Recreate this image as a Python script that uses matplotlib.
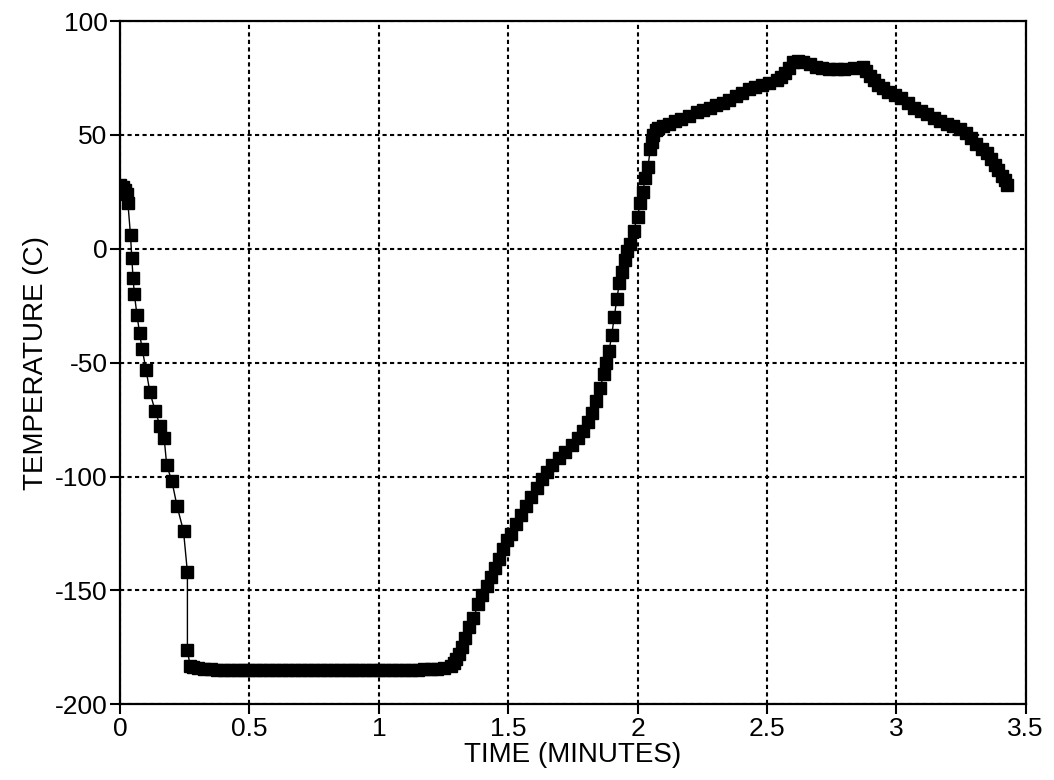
import matplotlib.pyplot as plt
import numpy as np

plt.rcParams['font.family'] = ['Liberation Sans', 'DejaVu Sans']
plt.rcParams['axes.unicode_minus'] = False

# readings (time in minutes, temperature in C)
time_min = [0.00, 0.01, 0.02, 0.025, 0.03, 0.04, 0.045, 0.05, 0.055, 0.065,
            0.075, 0.085, 0.10, 0.115, 0.135, 0.155, 0.17, 0.18, 0.20, 0.22,
            0.245, 0.26, 0.26, 0.27,
            0.28, 0.30, 0.325, 0.35, 0.375, 0.40, 0.425, 0.45, 0.475, 0.50,
            0.525, 0.55, 0.575, 0.60, 0.625, 0.65, 0.675, 0.70, 0.725, 0.75,
            0.775, 0.80, 0.825, 0.85, 0.875, 0.90, 0.925, 0.95, 0.975, 1.00,
            1.025, 1.05, 1.075, 1.10, 1.125, 1.15, 1.175, 1.20, 1.225, 1.25,
            1.28,
            1.29, 1.30, 1.31, 1.32, 1.335, 1.35, 1.365, 1.385, 1.40, 1.42,
            1.435, 1.45, 1.465, 1.48, 1.495, 1.51, 1.53, 1.55, 1.57, 1.59,
            1.61, 1.63, 1.65, 1.67, 1.695, 1.72, 1.745, 1.77, 1.79, 1.81,
            1.825, 1.84, 1.855, 1.87, 1.88, 1.89, 1.90, 1.91, 1.92, 1.93,
            1.94, 1.95, 1.96, 1.97, 1.985, 2.00, 2.01, 2.02, 2.03, 2.04,
            2.05, 2.055, 2.06,
            2.07, 2.08, 2.10, 2.12, 2.145, 2.17, 2.20, 2.23, 2.255, 2.28,
            2.305, 2.33, 2.355, 2.38, 2.405, 2.43, 2.455, 2.48, 2.51, 2.54,
            2.555, 2.57, 2.585, 2.60, 2.62, 2.64, 2.665, 2.69, 2.715, 2.74,
            2.77, 2.80, 2.835, 2.87, 2.885, 2.90, 2.915, 2.93, 2.95, 2.97,
            2.995, 3.02, 3.045, 3.07, 3.095, 3.12, 3.145, 3.17, 3.195, 3.22,
            3.245, 3.27, 3.29, 3.31, 3.33, 3.35, 3.365, 3.38, 3.395, 3.41,
            3.42, 3.43]
temp_c = [28, 27, 26, 24, 20, 6, -4, -13, -20, -29,
          -37, -44, -53, -63, -71, -78, -83, -95, -102, -113,
          -124, -142, -176, -183,
          -183.5, -184, -184.5, -184.5, -185, -185, -185, -185, -185, -185,
          -185, -185, -185, -185, -185, -185, -185, -185, -185, -185,
          -185, -185, -185, -185, -185, -185, -185, -185, -185, -185,
          -185, -185, -185, -185, -185, -185, -184.5, -184.5, -184.5, -184,
          -183,
          -182, -180, -178, -175, -171, -166, -162, -156, -152, -148,
          -144, -140, -136, -132, -128, -125, -121, -117, -113, -109,
          -105, -101, -98, -95, -92, -89, -86, -83, -80, -76,
          -72, -67, -61, -55, -50, -45, -38, -30, -22, -15,
          -10, -5, -1, 2, 8, 14, 20, 25, 31, 36,
          44, 47, 50,
          52, 53, 54, 55, 56, 57, 58.5, 60, 61, 62,
          63, 64, 65.5, 67, 68.5, 70, 71, 72, 73, 74,
          75.5, 77, 79.5, 82, 82.5, 82, 81, 80, 79.5, 79,
          79, 79, 79.5, 80, 78, 76, 74, 72, 70.5, 69,
          67.5, 66, 64, 62, 60.5, 59, 57.5, 56, 55, 54,
          52.5, 51, 48.5, 46, 44, 42, 39.5, 37, 34.5, 32,
          30, 28]

x_ticks = [0, 0.5, 1, 1.5, 2, 2.5, 3, 3.5]
x_labels = ['0', '0.5', '1', '1.5', '2', '2.5', '3', '3.5']
y_ticks = [-200, -150, -100, -50, 0, 50, 100]

fig = plt.figure(figsize=(10.54, 7.8), dpi=100)
ax = fig.add_axes([0.114, 0.097, 0.859, 0.876])

ax.plot(time_min, temp_c, color='black', lw=1, marker='s', ms=9,
        mfc='black', mec='black', zorder=3)

ax.set_xlim(0, 3.5)
ax.set_ylim(-200, 100)
ax.set_xticks(x_ticks)
ax.set_xticklabels(x_labels)
ax.set_yticks(y_ticks)
ax.tick_params(direction='out', length=7, width=1.5, labelsize=19, pad=2)

ax.grid(True, color='black', linestyle=(0, (2, 1.6)), linewidth=1.5)
for s in ax.spines.values():
    s.set_linewidth(1.6)

ax.set_xlabel('TIME (MINUTES)', fontsize=20, labelpad=1)
ax.set_ylabel('TEMPERATURE (C)', fontsize=20, labelpad=4)

fig.savefig('out.png', dpi=100)
